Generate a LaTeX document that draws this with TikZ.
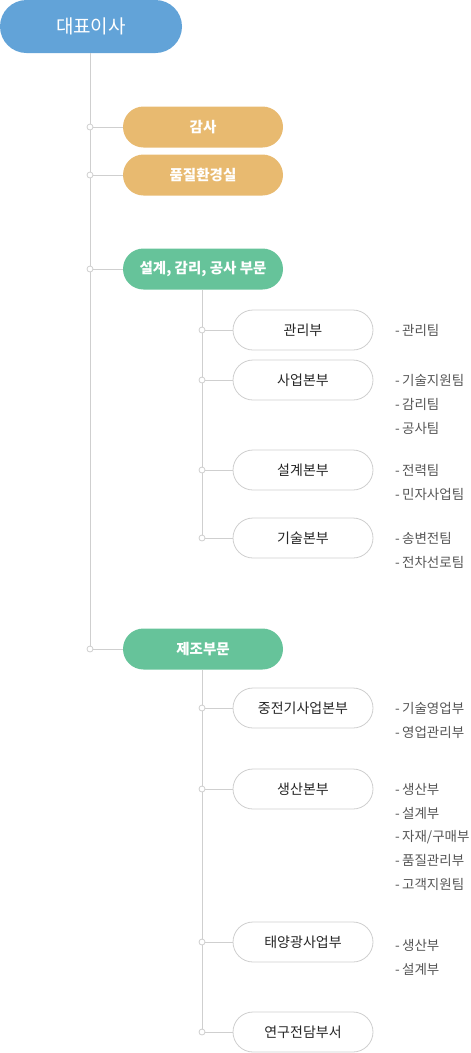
\documentclass[tikz,border=0pt]{standalone}
\usepackage{fontspec}
\setmainfont{Noto Sans CJK KR}
\definecolor{ceoblue}{HTML}{62A3D8}
\definecolor{staffgold}{HTML}{E8BA70}
\definecolor{divgreen}{HTML}{66C39A}
\definecolor{linegray}{HTML}{CFCFCF}
\definecolor{itemgray}{HTML}{555555}
\begin{document}
\begin{tikzpicture}[x=1pt,y=-1pt,
    line/.style={draw=linegray,line width=0.8pt},
    dot/.style={circle,draw=linegray,fill=white,line width=0.8pt,inner sep=0pt,minimum size=6pt},
    ceo node/.style={fill=ceoblue,text=white,rounded corners=26.5pt,minimum width=182pt,minimum height=53pt,inner sep=0pt,font=\fontsize{19}{21}\selectfont},
    staff node/.style={fill=staffgold,text=white,rounded corners=20.5pt,minimum width=160pt,minimum height=41pt,inner sep=0pt,font=\fontsize{14.5}{16}\selectfont\bfseries},
    div node/.style={staff node,fill=divgreen},
    dept node/.style={draw=linegray,fill=white,line width=0.8pt,rounded corners=20pt,minimum width=140pt,minimum height=40pt,inner sep=0pt,text=black!85,font=\fontsize{14}{16}\selectfont},
    item/.style={anchor=west,inner sep=0pt,text=itemgray,font=\fontsize{13.5}{15}\selectfont} ]
    \useasboundingbox (0,0) rectangle (471,1053);
    \node at (91,26.5) [ceo node] (ceo) {대표이사};
    \node at (203,127) [staff node] (gamsa) {감사};
    \node at (203,175) [staff node] (qual) {품질환경실};
    \node at (203,269) [div node] (design) {설계, 감리, 공사 부문};
    \node at (203,649) [div node] (manu) {제조부문};
    % main trunk
    \coordinate (d1) at (90,127);
    \coordinate (d2) at (90,175);
    \coordinate (d3) at (90,269);
    \coordinate (d4) at (90,649);
    \draw [line] (ceo.south -| d1) -- (d4);
    \draw [line] (d1) -- (gamsa);
    \draw [line] (d2) -- (qual);
    \draw [line] (d3) -- (design);
    \draw [line] (d4) -- (manu);
    \foreach \d in {d1,d2,d3,d4} \node at (\d) [dot] {};
    % design division
    \node at (303,330) [dept node] (mgmt) {관리부};
    \node at (303,380) [dept node] (biz) {사업본부};
    \node at (303,470) [dept node] (dsgn) {설계본부};
    \node at (303,538) [dept node] (tech) {기술본부};
    \coordinate (s1) at (202,330);
    \coordinate (s2) at (202,380);
    \coordinate (s3) at (202,470);
    \coordinate (s4) at (202,538);
    \draw [line] (design.south -| s1) -- (s4);
    \draw [line] (s1) -- (mgmt);
    \draw [line] (s2) -- (biz);
    \draw [line] (s3) -- (dsgn);
    \draw [line] (s4) -- (tech);
    \foreach \s in {s1,s2,s3,s4} \node at (\s) [dot] {};
    \node at (395,330) [item] (mgmt1) {-\,관리팀};
    \node at (395,380) [item] (biz1) {-\,기술지원팀};
    \node at (395,404) [item] (biz2) {-\,감리팀};
    \node at (395,428) [item] (biz3) {-\,공사팀};
    \node at (395,470) [item] (dsgn1) {-\,전력팀};
    \node at (395,494) [item] (dsgn2) {-\,민자사업팀};
    \node at (395,538) [item] (tech1) {-\,송변전팀};
    \node at (395,562) [item] (tech2) {-\,전차선로팀};
    % manufacturing division
    \node at (303,708) [dept node] (heavy) {중전기사업본부};
    \node at (303,789) [dept node] (prod) {생산본부};
    \node at (303,942) [dept node] (solar) {태양광사업부};
    \node at (303,1032) [dept node] (lab) {연구전담부서};
    \coordinate (m1) at (202,708);
    \coordinate (m2) at (202,789);
    \coordinate (m3) at (202,942);
    \coordinate (m4) at (202,1032);
    \draw [line] (manu.south -| m1) -- (m4);
    \draw [line] (m1) -- (heavy);
    \draw [line] (m2) -- (prod);
    \draw [line] (m3) -- (solar);
    \draw [line] (m4) -- (lab);
    \foreach \m in {m1,m2,m3,m4} \node at (\m) [dot] {};
    \node at (395,708) [item] (heavy1) {-\,기술영업부};
    \node at (395,732) [item] (heavy2) {-\,영업관리부};
    \node at (395,789) [item] (prod1) {-\,생산부};
    \node at (395,813) [item] (prod2) {-\,설계부};
    \node at (395,837) [item] (prod3) {-\,자재/구매부};
    \node at (395,860) [item] (prod4) {-\,품질관리부};
    \node at (395,884) [item] (prod5) {-\,고객지원팀};
    \node at (395,945) [item] (solar1) {-\,생산부};
    \node at (395,969) [item] (solar2) {-\,설계부};
\end{tikzpicture}
\end{document}
